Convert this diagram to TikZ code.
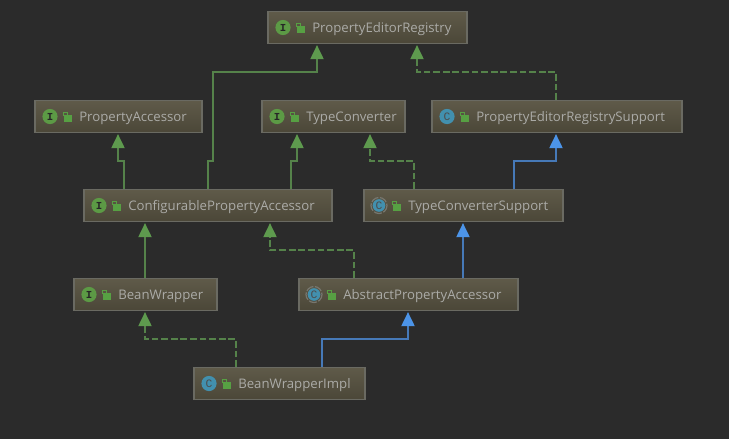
\documentclass[tikz,border=0pt]{standalone}
\usepackage{fontspec}
\setmainfont{Open Sans}
\newfontfamily\iconfont{Liberation Mono}
\usetikzlibrary{arrows.meta,calc}
\definecolor{bgc}{HTML}{2B2B2B}
\definecolor{boxtop}{HTML}{5F5A49}
\definecolor{boxbot}{HTML}{4B4738}
\definecolor{boxedge}{HTML}{6A6A62}
\definecolor{txt}{HTML}{ABABA7}
\definecolor{ringc}{HTML}{77776F}
\definecolor{gline}{HTML}{55824A}
\definecolor{ghead}{HTML}{5E9A4E}
\definecolor{bline}{HTML}{4679B8}
\definecolor{bhead}{HTML}{4C94E8}
\definecolor{iconI}{HTML}{5C9A45}
\definecolor{iconC}{HTML}{4290AE}
\definecolor{lockc}{HTML}{57A043}
\tikzset{
  x=0.75pt,y=-0.75pt,
  umlbox/.style={draw=boxedge,line width=0.9pt,top color=boxtop,bottom color=boxbot,minimum height=24pt,inner sep=0pt,rectangle},
  umltext/.style={text=txt,font=\fontsize{9.9pt}{11pt}\selectfont,anchor=base west,inner sep=0pt},
  iconi/.style={circle,fill=iconI,minimum size=11.4pt,inner sep=0pt,text=black!85,font=\fontsize{8pt}{8pt}\iconfont\bfseries},
  iconc/.style={circle,fill=iconC,minimum size=11.4pt,inner sep=0pt,text=black!70,font=\fontsize{8.5pt}{8pt}\iconfont},
  icona/.style={iconc,minimum size=9.5pt},
  ext/.style={draw=gline,line width=0.8pt,-{Triangle[length=10.5pt,width=10pt,color=ghead]},shorten >=0.8pt},
  extd/.style={ext,dash pattern=on 5pt off 2.2pt},
  cls/.style={draw=bline,line width=0.8pt,-{Triangle[length=10.5pt,width=10pt,color=bhead]},shorten >=0.8pt},
}
\newcommand{\lockat}[1]{%
  \fill[lockc] ($(#1)+(-3.5,-1.5)$) rectangle ($(#1)+(4.5,5)$);
  \draw[lockc,line width=0.6pt] ($(#1)+(-4.5,-1)$) -- ($(#1)+(-4.5,-4)$) -- ($(#1)+(-0.5,-4)$) -- ($(#1)+(-0.5,-1.5)$);
}
% name, left, right, top, icon kind, text
\newcommand{\umlnode}[6]{%
  \node[umlbox,minimum width={(#3-#2-1)*0.75pt}] (#1) at ({(#2+#3)/2+0.5},{#4+16.5}) {};
  \ifx#5a
    \draw[ringc,line width=0.9pt,dash pattern=on 6pt off 1.2pt] ({#2+16},{#4+16.5}) circle (8);
    \node[icona] (#1i) at ({#2+16},{#4+16.5}) {C};
  \else\ifx#5c
    \node[iconc] (#1i) at ({#2+16},{#4+16.5}) {C};
  \else
    \node[iconi] (#1i) at ({#2+16},{#4+16.5}) {I};
  \fi\fi
  \coordinate (#1l) at ({#2+33.5},{#4+16.5});
  \lockat{#1l}
  \node[umltext] (#1t) at ({#2+45},{#4+21.5}) {#6};
}
\begin{document}
\begin{tikzpicture}
\useasboundingbox[fill=bgc] (0,0) rectangle (729,439);
\umlnode{per}{267}{467}{11}{i}{PropertyEditorRegistry}
\umlnode{pa}{34}{202}{100}{i}{PropertyAccessor}
\umlnode{tc}{261}{405}{100}{i}{TypeConverter}
\umlnode{pers}{431}{682}{100}{c}{PropertyEditorRegistrySupport}
\umlnode{cpa}{83}{332}{189}{i}{ConfigurablePropertyAccessor}
\umlnode{tcs}{363}{563}{189}{a}{TypeConverterSupport}
\umlnode{bw}{73}{217}{278}{i}{BeanWrapper}
\umlnode{apa}{298}{518}{278}{a}{AbstractPropertyAccessor}
\umlnode{bwi}{193}{365}{367}{c}{BeanWrapperImpl}
\draw[ext] (cpa.north -| 124,0) -- (124,161) -- (118,161) -- (pa.south -| 118,0);
\draw[ext] (cpa.north -| 208,0) -- (208,161) -- (213,161) -- (213,72) -- (317,72) -- (per.south -| 317,0);
\draw[ext] (cpa.north -| 291,0) -- (291,161) -- (297,161) -- (tc.south -| 297,0);
\draw[extd] (pers.north -| 556,0) -- (556,72) -- (417,72) -- (per.south -| 417,0);
\draw[extd] (tcs.north -| 414,0) -- (414,161) -- (370,161) -- (tc.south -| 370,0);
\draw[cls] (tcs.north -| 514,0) -- (514,161) -- (556,161) -- (pers.south -| 556,0);
\draw[ext] (bw.north -| 145,0) -- (cpa.south -| 145,0);
\draw[extd] (apa.north -| 354,0) -- (354,250) -- (270,250) -- (cpa.south -| 270,0);
\draw[cls] (apa.north -| 463,0) -- (tcs.south -| 463,0);
\draw[extd] (bwi.north -| 236,0) -- (236,339) -- (145,339) -- (bw.south -| 145,0);
\draw[cls] (bwi.north -| 322,0) -- (322,339) -- (408,339) -- (apa.south -| 408,0);
\end{tikzpicture}
\end{document}
